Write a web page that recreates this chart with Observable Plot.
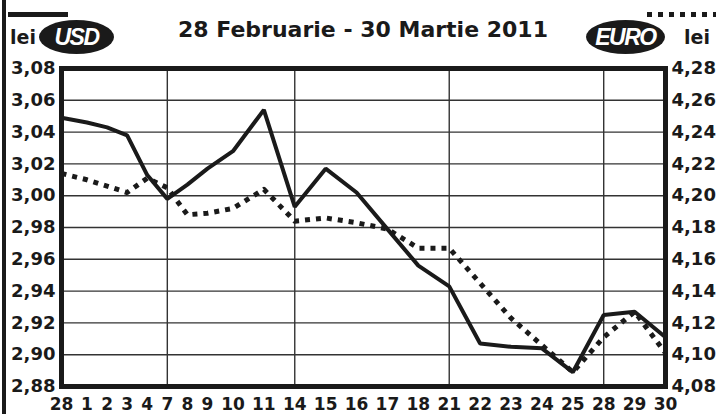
<!DOCTYPE html>
<html><head><meta charset="utf-8">
<script src="https://cdn.jsdelivr.net/npm/d3@7"></script>
<script src="https://cdn.jsdelivr.net/npm/@observablehq/plot@0.6"></script>
<style>
body{margin:0;background:#fff;}
#wrap{position:relative;width:716px;height:414px;overflow:hidden;font-family:"DejaVu Sans",sans-serif;font-weight:bold;color:#1a1a1a;}
#head{position:relative;height:60px;}
.abs{position:absolute;}
#lbar{left:2px;top:0;width:4px;height:414px;background:#1a1a1a;z-index:2;}
#solidKey{left:8px;top:12px;width:60px;height:5px;background:#1a1a1a;}
#dotKey{left:647px;top:12px;width:72px;height:5px;background:repeating-linear-gradient(90deg,#1a1a1a 0 5px,transparent 5px 11px);}
.lei{font-size:19px;line-height:1;top:28px;}
#leiL{left:10px;}
#leiR{left:684px;}
.oval{background:#1a1a1a;color:#fff;border-radius:50%;font-style:italic;font-size:23px;line-height:34px;height:34px;text-align:center;top:20px;letter-spacing:-1.5px;font-family:"Liberation Sans",Arial,sans-serif;}
#usdO{left:39px;width:75px;}
#eurO{left:586px;width:79px;}
#title{left:0;width:726px;text-align:center;top:19px;font-size:22px;line-height:1;}
#chart{position:absolute;left:0;top:60px;}
</style></head><body>
<div id="wrap">
  <div id="head">
    <div id="lbar" class="abs"></div>
    <div id="solidKey" class="abs"></div>
    <div id="dotKey" class="abs"></div>
    <div id="leiL" class="abs lei">lei</div>
    <div id="usdO" class="abs oval">USD</div>
    <div id="title" class="abs">28 Februarie - 30 Martie 2011</div>
    <div id="eurO" class="abs oval">EURO</div>
    <div id="leiR" class="abs lei">lei</div>
  </div>
  <div id="chart"></div>
</div>
<script>
const dates = ["2011-02-28","2011-03-01","2011-03-02","2011-03-03","2011-03-04","2011-03-07","2011-03-08","2011-03-09","2011-03-10","2011-03-11","2011-03-14","2011-03-15","2011-03-16","2011-03-17","2011-03-18","2011-03-21","2011-03-22","2011-03-23","2011-03-24","2011-03-25","2011-03-28","2011-03-29","2011-03-30"];
const dayLabels = ["28","1","2","3","4","7","8","9","10","11","14","15","16","17","18","21","22","23","24","25","28","29","30"];
const usd = [3.049,3.046,3.043,3.038,3.013,2.998,3.007,3.017,3.028,3.054,2.993,3.017,3.002,2.979,2.956,2.943,2.907,2.905,2.904,2.889,2.925,2.927,2.911];
const eur = [4.214,4.210,4.206,4.202,4.211,4.205,4.188,4.189,4.192,4.204,4.184,4.186,4.183,4.179,4.167,4.167,4.145,4.123,4.106,4.089,4.111,4.127,4.101];
const usdTicks = [2.88,2.90,2.92,2.94,2.96,2.98,3.00,3.02,3.04,3.06,3.08];
const eurTicks = [4.08,4.10,4.12,4.14,4.16,4.18,4.20,4.22,4.24,4.26,4.28];

const usdDomain = [usdTicks[0], usdTicks[usdTicks.length-1]];
const eurDomain = [eurTicks[0], eurTicks[eurTicks.length-1]];
const eurToUsd = v => usdDomain[0] + (v-eurDomain[0])*(usdDomain[1]-usdDomain[0])/(eurDomain[1]-eurDomain[0]);
const usdToEur = v => eurDomain[0] + (v-usdDomain[0])*(eurDomain[1]-eurDomain[0])/(usdDomain[1]-usdDomain[0]);
const fmt = v => v.toFixed(2).replace(".", ",");

// category positions follow the width of each day label (labels packed side by side)
const gap = 0.857;
const pos = [0];
for (let i = 1; i < dayLabels.length; i++) pos.push(pos[i-1] + (dayLabels[i-1].length + dayLabels[i].length)/2 + gap);
const labelByPos = new Map(pos.map((p,i)=>[p, dayLabels[i]]));

const rows = dates.map((d,i)=>({date:new Date(d), pos:pos[i], usd:usd[i], eurY:eurToUsd(eur[i])}));
const ink = "#1a1a1a";

const chart = Plot.plot({
  width:716, height:354,
  marginTop:8, marginBottom:28, marginLeft:61, marginRight:51,
  x:{type:"linear", domain:[0,pos[pos.length-1]], axis:null},
  y:{domain:usdDomain, axis:null},
  style:{fontFamily:"DejaVu Sans", fontSize:"18px", fontWeight:"bold", color:ink, background:"transparent", overflow:"visible"},
  marks:[
    Plot.gridY(usdTicks,{stroke:"#333",strokeOpacity:1,strokeWidth:1.4}),
    Plot.ruleX(rows.filter(r=>r.date.getUTCDay()===1),{x:"pos",stroke:"#333",strokeOpacity:1,strokeWidth:1.4}),
    Plot.line(rows,{x:"pos",y:"eurY",stroke:ink,strokeWidth:5,strokeDasharray:"5 6",strokeLinecap:"butt"}),
    Plot.line(rows,{x:"pos",y:"usd",stroke:ink,strokeWidth:4,strokeLinejoin:"miter"}),
    Plot.frame({stroke:ink,strokeWidth:5}),
    Plot.axisY(usdTicks,{anchor:"left",tickSize:0,tickPadding:6,tickFormat:fmt,fontSize:18,fontWeight:"bold",label:null}),
    Plot.axisY(eurTicks.map(eurToUsd),{anchor:"right",tickSize:0,tickPadding:6,tickFormat:d=>fmt(usdToEur(d)),fontSize:18,fontWeight:"bold",label:null}),
    Plot.axisX(pos,{anchor:"bottom",tickSize:0,tickPadding:11,tickFormat:d=>labelByPos.get(d),fontSize:17,fontWeight:"bold",label:null})
  ]
});
document.getElementById("chart").appendChild(chart);
</script>
</body></html>
